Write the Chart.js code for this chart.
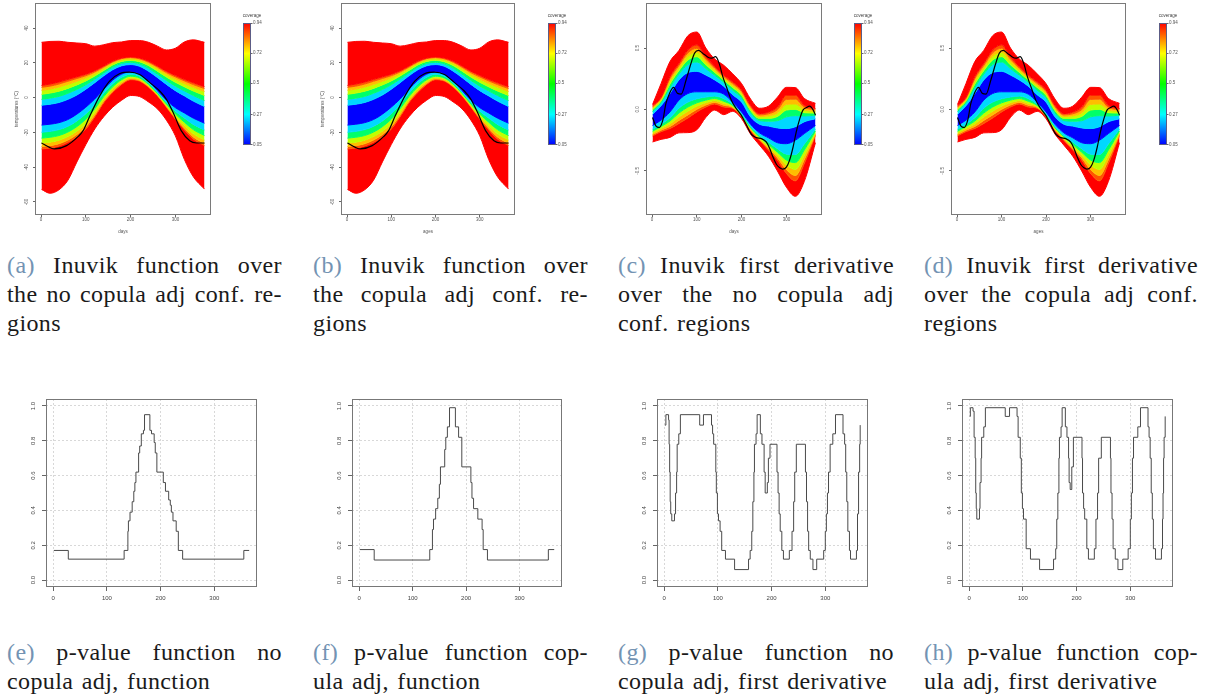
<!DOCTYPE html>
<html>
<head>
<meta charset="utf-8">
<script src="https://cdn.jsdelivr.net/npm/chart.js@4/dist/chart.umd.min.js"></script>
<style>
  html, body { margin: 0; padding: 0; background: #fff; }
  body { width: 1210px; height: 696px; overflow: hidden; position: relative; }
  canvas { position: absolute; }
  .cap { position: absolute; font: 24px/29px "Liberation Serif", "DejaVu Serif", serif; color: #1a1a1a; letter-spacing: 0.4px; }
  .cap .row { display: flex; justify-content: space-between; white-space: nowrap; }
  .cap .last { white-space: nowrap; word-spacing: 2px; }
  .cap .lab { color: #7393b3; }
</style>
</head>
<body>
<canvas id="pa"></canvas><canvas id="ka"></canvas>
<canvas id="pb"></canvas><canvas id="kb"></canvas>
<canvas id="pc"></canvas><canvas id="kc"></canvas>
<canvas id="pd"></canvas><canvas id="kd"></canvas>
<canvas id="pe"></canvas><canvas id="pf"></canvas>
<canvas id="pg"></canvas><canvas id="ph"></canvas>
<script>
Chart.defaults.font.family = '"Liberation Sans", Arial, sans-serif';

// shared day grid for the band edges
const DAYS = [1, 20, 40, 60, 80, 100, 120, 140, 160, 180, 200, 220, 240, 260, 280, 300, 320, 340, 365];
const DAY_TICKS = [0, 100, 200, 300];
const DAY_MIN = -13.56, DAY_MAX = 379.56;

// temperature bands (upper edges from outside in, then lower edges from inside out)
const tempOuterHi = [31.8, 32.3, 32.4, 31.8, 31.4, 31.0, 29.6, 30.4, 31.6, 32.0, 32.8, 32.8, 31.8, 29.6, 27.4, 28.4, 32.0, 33.2, 31.8];
const tempHi5 = [7.0, 7.8, 9.0, 10.5, 12.0, 13.5, 15.5, 18.2, 21.0, 22.8, 23.4, 22.8, 21.0, 18.2, 15.2, 12.8, 10.5, 8.6, 6.3];
const tempHi4 = [5.9, 6.6, 7.8, 9.4, 11.0, 12.6, 14.8, 17.6, 20.5, 22.4, 23.0, 22.3, 20.4, 17.5, 14.4, 11.9, 9.6, 7.5, 5.2];
const tempHi3 = [4.2, 4.9, 6.1, 7.6, 9.4, 11.3, 13.8, 16.8, 19.8, 21.7, 22.3, 21.6, 19.6, 16.5, 13.3, 10.6, 8.1, 6.0, 3.5];
const tempHi2 = [1.9, 2.6, 3.7, 5.3, 7.3, 9.6, 12.4, 15.6, 18.8, 20.8, 21.4, 20.6, 18.4, 15.2, 11.8, 8.8, 6.2, 3.8, 1.2];
const tempHi1 = [-1.0, -0.3, 0.7, 2.5, 4.7, 7.4, 10.7, 14.2, 17.5, 19.7, 20.3, 19.4, 16.9, 13.5, 9.9, 6.6, 3.9, 1.2, -1.7];
const tempHi0 = [-4.4, -3.8, -2.8, -1.0, 1.5, 4.8, 8.6, 12.5, 16.0, 18.3, 19.0, 18.0, 15.2, 11.5, 7.6, 4.0, 1.0, -2.0, -5.1];
const tempLo0 = [-15.8, -15.3, -14.4, -12.6, -9.5, -5.5, -0.8, 4.8, 10.0, 13.5, 14.8, 13.5, 9.5, 4.0, -1.5, -5.8, -8.8, -11.8, -14.7];
const tempLo1 = [-19.9, -19.4, -18.4, -16.5, -13.4, -9.3, -3.9, 2.5, 7.9, 11.7, 13.5, 12.3, 8.5, 3.1, -2.7, -7.8, -11.7, -15.4, -18.6];
const tempLo2 = [-23.3, -22.8, -21.8, -19.8, -16.7, -12.4, -6.4, 0.6, 6.2, 10.3, 12.3, 11.3, 7.6, 2.4, -3.7, -9.4, -14.1, -18.4, -21.8];
const tempLo3 = [-26.1, -25.6, -24.5, -22.4, -19.3, -15.0, -8.5, -1.0, 4.8, 9.1, 11.4, 10.5, 6.9, 1.8, -4.5, -10.8, -16.1, -20.8, -24.4];
const tempLo4 = [-28.1, -27.6, -26.5, -24.4, -21.2, -16.8, -10.0, -2.1, 3.7, 8.2, 10.8, 9.9, 6.4, 1.3, -5.1, -11.7, -17.5, -22.6, -26.3];
const tempLo5 = [-29.5, -29.0, -27.8, -25.7, -22.5, -18.1, -11.0, -2.9, 3.0, 7.6, 10.3, 9.5, 6.0, 1.0, -5.5, -12.4, -18.5, -23.8, -27.6];
const tempOuterLo = [-52.8, -55.0, -53.0, -47.5, -37.0, -27.0, -18.0, -11.0, -5.5, -1.5, 1.2, 0.6, -2.5, -6.5, -13.0, -22.0, -35.5, -45.5, -52.6];

const tempObsDays = [1, 19, 30, 57, 83, 94, 109, 131, 153, 176, 198, 220, 243, 265, 280, 295, 313, 332, 347, 365];
const tempObs = [-26.1, -28.6, -29.5, -27.6, -22.3, -19.0, -10.5, 1.0, 9.5, 13.9, 14.7, 13.3, 8.6, 3.8, -1.0, -8.6, -19.0, -24.8, -26.1, -26.1];

// first derivative bands, same layout
const derivOuterHi = [0.04, 0.21, 0.39, 0.48, 0.60, 0.63, 0.50, 0.41, 0.36, 0.29, 0.21, 0.085, 0.01, 0.027, 0.10, 0.18, 0.178, 0.09, 0.05];
const derivHi5 = [0.03, 0.10, 0.27, 0.376, 0.485, 0.526, 0.43, 0.35, 0.28, 0.226, 0.16, 0.035, -0.033, -0.02, 0.02, 0.117, 0.117, 0.035, 0.008];
const derivHi4 = [0.021, 0.091, 0.252, 0.358, 0.461, 0.498, 0.411, 0.336, 0.268, 0.212, 0.147, 0.023, -0.044, -0.035, -0.002, 0.082, 0.084, 0.018, -0.003];
const derivHi3 = [0.010, 0.080, 0.231, 0.338, 0.433, 0.466, 0.388, 0.319, 0.255, 0.196, 0.132, 0.008, -0.057, -0.052, -0.028, 0.041, 0.045, -0.003, -0.015];
const derivHi2 = [-0.002, 0.069, 0.207, 0.315, 0.402, 0.429, 0.363, 0.301, 0.240, 0.178, 0.115, -0.008, -0.072, -0.072, -0.057, -0.005, 0.001, -0.026, -0.029];
const derivHi1 = [-0.016, 0.055, 0.179, 0.288, 0.365, 0.386, 0.333, 0.279, 0.222, 0.157, 0.095, -0.027, -0.090, -0.095, -0.091, -0.060, -0.050, -0.053, -0.046];
const derivHi0 = [-0.04, 0.03, 0.13, 0.24, 0.30, 0.31, 0.28, 0.24, 0.19, 0.12, 0.06, -0.06, -0.12, -0.135, -0.15, -0.155, -0.14, -0.10, -0.075];
const derivLo0 = [-0.13, -0.087, -0.02, 0.076, 0.13, 0.144, 0.144, 0.144, 0.125, 0.06, -0.02, -0.12, -0.19, -0.23, -0.27, -0.278, -0.25, -0.196, -0.13];
const derivLo1 = [-0.160, -0.120, -0.067, 0.010, 0.060, 0.087, 0.101, 0.109, 0.088, 0.043, -0.034, -0.138, -0.211, -0.265, -0.319, -0.363, -0.366, -0.281, -0.158];
const derivLo2 = [-0.177, -0.138, -0.094, -0.029, 0.020, 0.054, 0.076, 0.089, 0.067, 0.033, -0.042, -0.148, -0.223, -0.285, -0.347, -0.411, -0.432, -0.330, -0.174];
const derivLo3 = [-0.191, -0.154, -0.117, -0.061, -0.014, 0.026, 0.055, 0.072, 0.049, 0.024, -0.049, -0.156, -0.233, -0.302, -0.371, -0.452, -0.488, -0.372, -0.188];
const derivLo4 = [-0.204, -0.168, -0.138, -0.089, -0.044, 0.001, 0.036, 0.057, 0.034, 0.017, -0.055, -0.164, -0.242, -0.317, -0.392, -0.489, -0.537, -0.408, -0.200];
const derivLo5 = [-0.215, -0.18, -0.155, -0.114, -0.07, -0.02, 0.02, 0.044, 0.02, 0.01, -0.06, -0.17, -0.25, -0.33, -0.41, -0.52, -0.58, -0.44, -0.21];
const derivOuterLo = [-0.264, -0.243, -0.227, -0.19, -0.188, -0.165, -0.065, -0.005, -0.042, -0.015, -0.075, -0.2, -0.29, -0.38, -0.50, -0.632, -0.706, -0.585, -0.27];

const derivObsDays = [1, 9, 16, 24, 31, 39, 48, 57, 65, 76, 87, 95, 104, 113, 125, 132, 142, 151, 158, 166, 177, 188, 199, 210, 222, 233, 244, 255, 263, 270, 278, 285, 292, 300, 307, 315, 322, 330, 337, 345, 352, 360, 365];
const derivObs = [-0.065, -0.136, -0.147, -0.087, 0.049, 0.131, 0.18, 0.131, 0.125, 0.24, 0.376, 0.458, 0.48, 0.458, 0.425, 0.417, 0.43, 0.362, 0.267, 0.185, 0.076, 0.008, -0.046, -0.12, -0.202, -0.229, -0.237, -0.264, -0.319, -0.387, -0.447, -0.474, -0.485, -0.469, -0.414, -0.305, -0.183, -0.074, -0.005, 0.016, 0.027, -0.005, -0.046];

const TEMP_TICKS = [-60, -40, -20, 0, 20, 40];
const DERIV_TICKS = [-0.5, 0, 0.5];
const COVERAGE_TICKS = [0.05, 0.27, 0.5, 0.72, 0.94];
const COVERAGE_COLORS = ['#0000FF', '#00FFFF', '#00FF00', '#FFFF00', '#FF0000'];

// p-value step functions: day where each level starts
const pvalFuncDays = [1, 28, 132, 139, 140, 143, 147, 150, 152, 154, 159, 161, 164, 168, 170, 180, 183, 188, 190, 193, 205, 209, 215, 218, 220, 223, 229, 233, 241, 355, 365];
const pvalFunc = [0.17, 0.12, 0.17, 0.28, 0.34, 0.39, 0.45, 0.51, 0.56, 0.62, 0.73, 0.77, 0.84, 0.86, 0.95, 0.86, 0.84, 0.79, 0.73, 0.62, 0.56, 0.51, 0.46, 0.43, 0.39, 0.34, 0.28, 0.17, 0.12, 0.17, 0.17];

const pvalFuncCopDays = [1, 28, 132, 137, 139, 143, 147, 150, 152, 160, 162, 165, 169, 180, 186, 192, 209, 211, 214, 222, 230, 232, 240, 354, 365];
const pvalFuncCop = [0.175, 0.115, 0.175, 0.29, 0.35, 0.41, 0.47, 0.55, 0.65, 0.75, 0.82, 0.88, 0.99, 0.88, 0.82, 0.65, 0.56, 0.47, 0.41, 0.35, 0.29, 0.175, 0.115, 0.175, 0.175];

const pvalDerivDays = [1, 3, 8, 9, 10, 11, 12, 14, 19, 21, 23, 24, 27, 30, 66, 73, 88, 90, 92, 96, 97, 99, 101, 104, 107, 114, 131, 157, 160, 163, 165, 167, 168, 171, 173, 179, 182, 186, 188, 192, 194, 197, 210, 212, 214, 216, 219, 222, 233, 238, 241, 243, 246, 263, 265, 267, 269, 272, 277, 284, 297, 300, 302, 304, 306, 309, 314, 319, 333, 336, 338, 340, 342, 345, 347, 358, 360, 362, 364, 365];
const pvalDeriv = [0.89, 0.95, 0.92, 0.78, 0.62, 0.45, 0.38, 0.34, 0.38, 0.5, 0.62, 0.78, 0.84, 0.95, 0.89, 0.95, 0.89, 0.84, 0.78, 0.62, 0.5, 0.38, 0.34, 0.28, 0.17, 0.12, 0.06, 0.12, 0.17, 0.28, 0.45, 0.62, 0.78, 0.84, 0.95, 0.84, 0.78, 0.62, 0.5, 0.56, 0.7, 0.78, 0.62, 0.5, 0.38, 0.28, 0.17, 0.12, 0.17, 0.28, 0.45, 0.62, 0.78, 0.62, 0.45, 0.28, 0.17, 0.12, 0.06, 0.12, 0.17, 0.28, 0.38, 0.5, 0.62, 0.78, 0.84, 0.95, 0.84, 0.78, 0.62, 0.45, 0.28, 0.17, 0.12, 0.17, 0.38, 0.62, 0.78, 0.89];

const pvalDerivCopDays = [1, 2, 7, 9, 11, 12, 13, 14, 19, 20, 22, 23, 27, 30, 67, 75, 89, 91, 95, 97, 99, 101, 106, 114, 131, 157, 161, 163, 165, 167, 168, 171, 173, 179, 182, 185, 186, 188, 191, 194, 210, 211, 213, 215, 219, 222, 233, 236, 239, 241, 246, 263, 264, 266, 268, 272, 277, 286, 296, 300, 302, 304, 306, 314, 319, 333, 335, 337, 339, 341, 343, 347, 358, 360, 361, 362, 363, 365];
const pvalDerivCop = [0.94, 0.99, 0.97, 0.82, 0.7, 0.5, 0.41, 0.35, 0.41, 0.56, 0.7, 0.82, 0.88, 0.99, 0.94, 0.99, 0.94, 0.82, 0.7, 0.5, 0.41, 0.35, 0.18, 0.12, 0.06, 0.12, 0.18, 0.35, 0.5, 0.7, 0.82, 0.88, 0.99, 0.88, 0.82, 0.7, 0.56, 0.52, 0.65, 0.82, 0.7, 0.5, 0.41, 0.35, 0.18, 0.12, 0.18, 0.35, 0.5, 0.7, 0.82, 0.7, 0.5, 0.35, 0.18, 0.12, 0.06, 0.12, 0.18, 0.35, 0.5, 0.7, 0.82, 0.88, 0.99, 0.88, 0.82, 0.7, 0.5, 0.35, 0.18, 0.12, 0.18, 0.35, 0.5, 0.7, 0.82, 0.94];
const PVAL_TICKS = [0, 0.2, 0.4, 0.6, 0.8, 1];

const CAPTIONS = [
  { left: 7, top: 251, width: 275, label: '(a)', lines: ['Inuvik function over', 'the no copula adj conf. re-', 'gions'] },
  { left: 313, top: 251, width: 275, label: '(b)', lines: ['Inuvik function over', 'the copula adj conf. re-', 'gions'] },
  { left: 618, top: 251, width: 276, label: '(c)', lines: ['Inuvik first derivative', 'over the no copula adj', 'conf. regions'] },
  { left: 924, top: 251, width: 274, label: '(d)', lines: ['Inuvik first derivative', 'over the copula adj conf.', 'regions'] },
  { left: 7, top: 638, width: 275, label: '(e)', lines: ['p-value function no', 'copula adj, function'] },
  { left: 313, top: 638, width: 275, label: '(f)', lines: ['p-value function cop-', 'ula adj, function'] },
  { left: 618, top: 638, width: 276, label: '(g)', lines: ['p-value function no', 'copula adj, first derivative'] },
  { left: 924, top: 638, width: 274, label: '(h)', lines: ['p-value function cop-', 'ula adj, first derivative'] }
];

const L1 = '#00D8FF', L2 = '#00FF6A', L3 = '#C0FF00', L4 = '#FFBE00', L5 = '#FF5500';
// fill colour of the strip between edge i-1 and edge i
const BAND_FILL = ['#FF0000', '#FF0000', L5, L4, L3, L2, L1, '#0000FF', L1, L2, L3, L4, L5, '#FF0000'];

const tempBands = [tempOuterHi, tempHi5, tempHi4, tempHi3, tempHi2, tempHi1, tempHi0, tempLo0, tempLo1, tempLo2, tempLo3, tempLo4, tempLo5, tempOuterLo];
const derivBands = [derivOuterHi, derivHi5, derivHi4, derivHi3, derivHi2, derivHi1, derivHi0, derivLo0, derivLo1, derivLo2, derivLo3, derivLo4, derivLo5, derivOuterLo];

const framePlugin = {
  id: 'frame',
  afterDraw(chart, _args, opts) {
    const { ctx, chartArea: a } = chart;
    ctx.save();
    ctx.strokeStyle = opts.color || '#777';
    ctx.lineWidth = 1;
    ctx.strokeRect(Math.round(a.left) + 0.5, Math.round(a.top) + 0.5, Math.round(a.width) - 1, Math.round(a.height) - 1);
    ctx.restore();
  }
};

const barTitlePlugin = {
  id: 'barTitle',
  afterDraw(chart, _args, opts) {
    const { ctx, chartArea: a } = chart;
    ctx.save();
    ctx.font = '4.5px "Liberation Sans", Arial, sans-serif';
    ctx.fillStyle = '#444';
    ctx.textAlign = 'center';
    ctx.textBaseline = 'middle';
    ctx.fillText(opts.text, (a.left + a.right) / 2 + 5, a.top - 7.3);
    ctx.restore();
  }
};

const place = (id, left, top, width, height) => {
  const c = document.getElementById(id);
  c.width = width;
  c.height = height;
  c.style.left = left + 'px';
  c.style.top = top + 'px';
  return c;
};

const setTicks = list => scale => { scale.ticks = list.map(value => ({ value })); };

const bandChart = (id, box, bands, obsDays, obs, yAxis, xTitle, yTitle) => {
  const canvas = place(id, box.l - 35, box.t - 13, box.r - box.l + 45, box.b - box.t + 40);
  const datasets = bands.map((vals, i) => ({
    data: vals.map((v, k) => ({ x: DAYS[k], y: v })),
    fill: i === 0 ? false : '-1',
    backgroundColor: BAND_FILL[i],
    borderColor: BAND_FILL[i],
    borderWidth: 1,
    pointRadius: 0,
    cubicInterpolationMode: 'monotone'
  }));
  datasets.push({
    data: obs.map((v, k) => ({ x: obsDays[k], y: v })),
    borderColor: '#000',
    borderWidth: 1.2,
    pointRadius: 0,
    fill: false,
    cubicInterpolationMode: 'monotone',
    order: -1
  });
  new Chart(canvas, {
    type: 'line',
    data: { datasets },
    options: {
      responsive: false,
      animation: false,
      events: [],
      layout: { padding: { top: 13, right: 10, left: 0, bottom: 0 } },
      plugins: { legend: { display: false }, tooltip: { enabled: false }, frame: { color: '#7a7a7a' } },
      scales: {
        x: {
          type: 'linear', min: DAY_MIN, max: DAY_MAX,
          afterBuildTicks: setTicks(DAY_TICKS),
          afterFit: s => { s.height = 27; },
          grid: { drawOnChartArea: false, tickLength: 2, tickColor: '#666' },
          border: { display: false },
          ticks: { font: { size: 4.5 }, color: '#555', padding: 0.5, maxRotation: 0, autoSkip: false },
          title: { display: true, text: xTitle, font: { size: 4.5 }, color: '#555', padding: { top: 0, bottom: 7.3 } }
        },
        y: {
          min: yAxis.min, max: yAxis.max,
          afterBuildTicks: setTicks(yAxis.ticks),
          afterFit: s => { s.width = 35; },
          grid: { drawOnChartArea: false, tickLength: 2, tickColor: '#666' },
          border: { display: false },
          ticks: { font: { size: 4.5 }, color: '#555', minRotation: 90, maxRotation: 90, crossAlign: 'center', padding: yAxis.pad, autoSkip: false, callback: yAxis.fmt },
          title: { display: !!yTitle, text: yTitle || '', font: { size: 4.5 }, color: '#555', padding: { top: 14.3, bottom: 0 } }
        }
      }
    },
    plugins: [framePlugin]
  });
};

const coverageBar = (id, left) => {
  const top = 23, bottom = 145, w = 8;
  const canvas = place(id, left - 2, top - 14, w + 2 + 24, bottom - top + 17);
  new Chart(canvas, {
    type: 'bar',
    data: {
      labels: [''],
      datasets: [{
        data: [[COVERAGE_TICKS[0], COVERAGE_TICKS[COVERAGE_TICKS.length - 1]]],
        backgroundColor: c => {
          const a = c.chart.chartArea;
          if (!a) return COVERAGE_COLORS[0];
          const g = c.chart.ctx.createLinearGradient(0, a.bottom, 0, a.top);
          COVERAGE_COLORS.forEach((col, i) => g.addColorStop(i / (COVERAGE_COLORS.length - 1), col));
          return g;
        },
        borderWidth: 0,
        barPercentage: 1,
        categoryPercentage: 1
      }]
    },
    options: {
      responsive: false,
      animation: false,
      events: [],
      layout: { padding: { left: 2, top: 14, bottom: 3, right: 0 } },
      plugins: { legend: { display: false }, tooltip: { enabled: false }, frame: { color: '#5c5c85' }, barTitle: { text: 'coverage' } },
      scales: {
        x: { display: false },
        y: {
          position: 'right',
          min: COVERAGE_TICKS[0], max: COVERAGE_TICKS[COVERAGE_TICKS.length - 1],
          afterBuildTicks: setTicks(COVERAGE_TICKS),
          afterFit: s => { s.width = 24; },
          grid: { drawOnChartArea: false, tickLength: 1.5, tickColor: '#666' },
          border: { display: false },
          ticks: { font: { size: 4.5 }, color: '#555', padding: 0.5, autoSkip: false, callback: v => String(v) }
        }
      }
    },
    plugins: [framePlugin, barTitlePlugin]
  });
};

const pvalChart = (id, box, days, vals) => {
  const canvas = place(id, box.l - 46, box.t - 20, box.r - box.l + 58, box.b - box.t + 50);
  const gridStyle = { color: '#d8d8d8', tickColor: '#666', tickLength: 4 };
  new Chart(canvas, {
    type: 'line',
    data: {
      datasets: [{
        data: days.map((x, i) => ({ x, y: vals[i] })),
        stepped: 'before',
        borderColor: '#4a4a4a',
        borderWidth: 1,
        pointRadius: 0,
        fill: false
      }]
    },
    options: {
      responsive: false,
      animation: false,
      events: [],
      layout: { padding: { top: 20, right: 12, left: 0, bottom: 0 } },
      plugins: { legend: { display: false }, tooltip: { enabled: false }, frame: { color: '#777' } },
      scales: {
        x: {
          type: 'linear', min: DAY_MIN, max: DAY_MAX,
          afterBuildTicks: setTicks(DAY_TICKS),
          afterFit: s => { s.height = 30; },
          grid: gridStyle,
          border: { display: false, dash: [2, 2] },
          ticks: { font: { size: 6 }, color: '#444', padding: 4, maxRotation: 0, autoSkip: false }
        },
        y: {
          min: -0.04, max: 1.04,
          afterBuildTicks: setTicks(PVAL_TICKS),
          afterFit: s => { s.width = 46; },
          grid: gridStyle,
          border: { display: false, dash: [2, 2] },
          ticks: { font: { size: 6 }, color: '#444', minRotation: 90, maxRotation: 90, crossAlign: 'center', padding: 4.8, autoSkip: false, callback: v => v.toFixed(1) }
        }
      }
    },
    plugins: [framePlugin]
  });
};

const tempAxis = { min: -67.5, max: 54.4, ticks: TEMP_TICKS, pad: 2.7, fmt: v => String(v) };
const derivAxis = { min: -0.858, max: 0.866, ticks: DERIV_TICKS, pad: 2.1, fmt: v => v.toFixed(1) };

bandChart('pa', { l: 35, r: 211, t: 3, b: 215 }, tempBands, tempObsDays, tempObs, tempAxis, 'days', 'temperatures (°C)');
bandChart('pb', { l: 341, r: 515, t: 3, b: 215 }, tempBands, tempObsDays, tempObs, tempAxis, 'ages', 'temperatures (°C)');
bandChart('pc', { l: 646, r: 822, t: 3, b: 215 }, derivBands, derivObsDays, derivObs, derivAxis, 'days', '');
bandChart('pd', { l: 951, r: 1126, t: 3, b: 215 }, derivBands, derivObsDays, derivObs, derivAxis, 'ages', '');
coverageBar('ka', 243);
coverageBar('kb', 548);
coverageBar('kc', 854);
coverageBar('kd', 1159);

pvalChart('pe', { l: 46, r: 257, t: 399, b: 587 }, pvalFuncDays, pvalFunc);
pvalChart('pf', { l: 352, r: 562, t: 399, b: 587 }, pvalFuncCopDays, pvalFuncCop);
pvalChart('pg', { l: 657, r: 868, t: 399, b: 587 }, pvalDerivDays, pvalDeriv);
pvalChart('ph', { l: 962, r: 1173, t: 399, b: 587 }, pvalDerivCopDays, pvalDerivCop);

// captions: every line but the last is spread to the full width
CAPTIONS.forEach(cap => {
  const div = document.createElement('div');
  div.className = 'cap';
  div.style.left = cap.left + 'px';
  div.style.top = cap.top + 'px';
  div.style.width = cap.width + 'px';
  cap.lines.forEach((line, i) => {
    const row = document.createElement('div');
    const words = line.split(' ');
    if (i === 0) words.unshift(cap.label);
    if (i < cap.lines.length - 1) {
      row.className = 'row';
      words.forEach((w, k) => {
        const s = document.createElement('span');
        s.textContent = w;
        if (i === 0 && k === 0) s.className = 'lab';
        row.appendChild(s);
      });
    } else {
      row.className = 'last';
      if (i === 0) {
        const s = document.createElement('span');
        s.className = 'lab';
        s.textContent = cap.label + ' ';
        row.appendChild(s);
        words.shift();
      }
      row.appendChild(document.createTextNode(words.join(' ')));
    }
    div.appendChild(row);
  });
  document.body.appendChild(div);
});
</script>
</body>
</html>
